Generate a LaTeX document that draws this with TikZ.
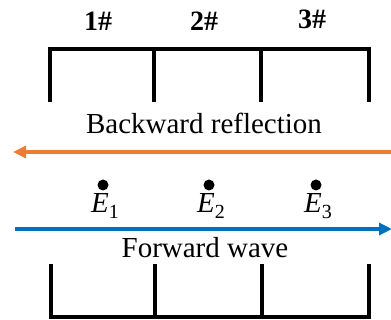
\documentclass[tikz,border=0pt]{standalone}
\usepackage{fontspec}
\setmainfont{Liberation Serif}
\usetikzlibrary{arrows.meta}

\definecolor{waveorange}{RGB}{237,125,49}
\definecolor{waveblue}{RGB}{0,112,192}

\newcommand{\fieldsub}[1]{\raisebox{-6pt}{\fontsize{20}{22}\selectfont #1}}

\begin{document}
\begin{tikzpicture}[x=1pt, y=-1pt,
    bracket/.style={line width=4pt, line cap=rect},
    wave/.style={line width=3.5pt, -{Triangle[length=13pt, width=12pt]}},
    numlabel/.style={font=\fontsize{28}{32}\selectfont\bfseries},
    wavelabel/.style={font=\fontsize{29}{33}\selectfont},
    field/.style={circle, fill=black, inner sep=0pt, minimum size=11pt}]
  \useasboundingbox (0,0) rectangle (391,320);

  % Top: three sections 1#, 2#, 3#
  \draw[bracket] (50,100) -- (50,49) -- (369,49) -- (369,100);
  \draw[bracket] (154,49) -- (154,100);
  \draw[bracket] (261,49) -- (261,100);
  \node[numlabel] (sec1) at (98,21) {1\#};
  \node[numlabel] (sec2) at (204,21) {2\#};
  \node[numlabel] (sec3) at (312,19) {3\#};

  % Backward reflection (orange, right to left)
  \node[wavelabel] (backlabel) at (204,123) {Backward reflection};
  \coordinate (backstart) at (393,152);
  \coordinate (backend) at (13,152);
  \draw[wave, waveorange] (backstart) -- (backend);

  % Fields at the three sections
  \foreach \i/\x in {1/103, 2/209, 3/316} {
    \node[field] (dot\i) at (\x,185) {};
    \node[wavelabel, anchor=base west, inner sep=0pt]
      (field\i) at (\x-12,213) {\textit{E}\fieldsub{\i}};
  }

  % Forward wave (blue, left to right)
  \coordinate (fwdstart) at (15,229);
  \coordinate (fwdend) at (392,229);
  \draw[wave, waveblue] (fwdstart) -- (fwdend);
  \node[wavelabel] (fwdlabel) at (205,248) {Forward wave};

  % Bottom: three sections
  \draw[bracket] (51,266) -- (51,317) -- (369,317) -- (369,266);
  \draw[bracket] (155,266) -- (155,317);
  \draw[bracket] (262,266) -- (262,317);
\end{tikzpicture}
\end{document}
